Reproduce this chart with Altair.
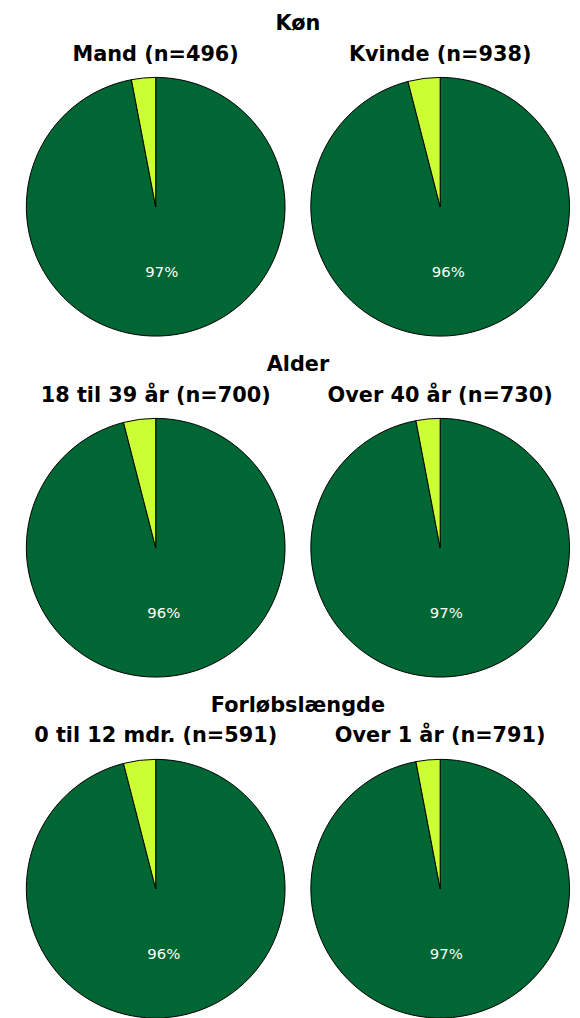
import altair as alt
import pandas as pd

group_titles = ["Køn", "Alder", "Forløbslængde"]
pie_titles = [
    ["Mand (n=496)", "Kvinde (n=938)"],
    ["18 til 39 år (n=700)", "Over 40 år (n=730)"],
    ["0 til 12 mdr. (n=591)", "Over 1 år (n=791)"],
]
yes_pct = [[97, 96], [96, 97], [96, 97]]
categories = ["Ja", "Nej"]
colors = ["#006633", "#CCFF33"]

SIZE = 262
R = 130.5


def pie(title, pct):
    df = pd.DataFrame({
        "cat": categories,
        "value": [pct, 100 - pct],
        "idx": [0, 1],
        "label": [f"{pct}%", ""],
    })
    base = alt.Chart(df).encode(
        theta=alt.Theta("value:Q", stack=True),
        order=alt.Order("idx:Q"),
    )
    arc = base.mark_arc(outerRadius=R, stroke="black", strokeWidth=1).encode(
        color=alt.Color("cat:N", scale=alt.Scale(domain=categories, range=colors), legend=None)
    )
    txt = base.mark_text(radius=66, color="white", fontSize=15, font="DejaVu Sans").encode(
        text="label:N"
    )
    return alt.layer(arc, txt).properties(
        width=SIZE, height=SIZE,
        title=alt.TitleParams(title, offset=11),
    )


rows = []
for g, titles, pcts in zip(group_titles, pie_titles, yes_pct):
    row = alt.hconcat(
        pie(titles[0], pcts[0]), pie(titles[1], pcts[1]), spacing=21,
        title=alt.TitleParams(g, anchor="middle", offset=10),
    )
    rows.append(row)

chart = alt.vconcat(*rows, spacing=15).properties(
    padding={"left": 16, "top": 0, "right": 0, "bottom": 0}
).configure_view(stroke=None).configure_title(
    font="DejaVu Sans", fontSize=21, fontWeight="bold", color="black"
)

chart.save("out.html", embed_options={"renderer": "svg", "actions": False})
